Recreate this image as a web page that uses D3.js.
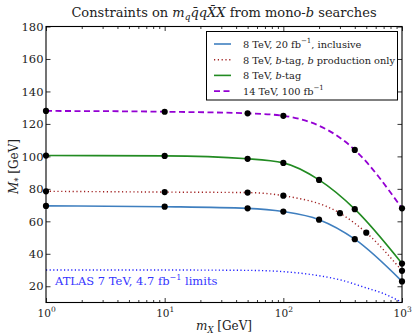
<!DOCTYPE html>
<html>
<head>
<meta charset="utf-8">
<script src="https://cdn.jsdelivr.net/npm/d3@7"></script>
<style>
  html, body { margin: 0; padding: 0; background: #fff; }
</style>
</head>
<body>
<svg id="chart" width="412" height="333" font-family="'DejaVu Serif', 'Liberation Serif', 'Times New Roman', serif"></svg>
<script>
// Mediator mass X (GeV) at which each limit was computed
const mxInclusive = [1, 10, 50, 100, 200, 400, 1000];
const msInclusive = [69.5, 69, 68, 66, 61, 49, 23];

const mxBprod = [1, 10, 50, 100, 300, 500, 1000];
const msBprod = [78.5, 78, 77.7, 75.8, 65, 53, 29.5];

const mxBtag = [1, 10, 50, 100, 200, 400, 1000];
const msBtag = [100.5, 100.3, 98.5, 96, 85.5, 67.5, 34];

const mx14 = [1, 10, 50, 100, 400, 1000];
const ms14 = [128, 127.5, 126.5, 125, 104, 68];

// ATLAS 7 TeV reference curve (no markers)
const mxAtlas = [1, 10, 50, 100, 200, 300, 500, 700, 1000];
const msAtlas = [30, 30, 29.8, 29, 26.5, 24, 19, 15.5, 10];

const yTicks = [20, 40, 60, 80, 100, 120, 140, 160, 180];
const xDecades = [0, 1, 2, 3];

const series = [
  { label: "inclusive", xs: mxInclusive, ys: msInclusive, color: "#3f7fbf", dash: null, width: 1.6, markers: true },
  { label: "bprod", xs: mxBprod, ys: msBprod, color: "#a02020", dash: "1.2,2.6", width: 1.4, markers: true },
  { label: "btag", xs: mxBtag, ys: msBtag, color: "#228b22", dash: null, width: 1.6, markers: true },
  { label: "14tev", xs: mx14, ys: ms14, color: "#9400d3", dash: "6,3.5", width: 1.8, markers: true },
  { label: "atlas", xs: mxAtlas, ys: msAtlas, color: "#2020ff", dash: "1.2,2.4", width: 1.4, markers: false }
];

const svg = d3.select("#chart");
const pL = 46, pR = 402, pT = 26.5, pB = 302.5;

const x = d3.scaleLog().domain([1, 1000]).range([pL, pR]);
const y = d3.scaleLinear().domain([10, 180]).range([pB, pT]);

const plot = svg.append("g");
plot.append("clipPath").attr("id", "clip")
  .append("rect").attr("x", pL).attr("y", pT).attr("width", pR - pL).attr("height", pB - pT);

const line = d3.line()
  .x(d => x(d[0])).y(d => y(d[1]))
  .curve(d3.curveMonotoneX);

const lines = plot.append("g").attr("clip-path", "url(#clip)");
series.forEach(s => {
  const pts = s.xs.map((v, i) => [v, s.ys[i]]);
  lines.append("path")
    .attr("d", line(pts))
    .attr("fill", "none")
    .attr("stroke", s.color)
    .attr("stroke-width", s.width)
    .attr("stroke-dasharray", s.dash);
});
series.filter(s => s.markers).forEach(s => {
  s.xs.forEach((v, i) => {
    plot.append("circle")
      .attr("cx", x(v)).attr("cy", y(s.ys[i]))
      .attr("r", 3.1).attr("fill", "#000");
  });
});

// Axes with inward ticks on all four sides
const minor = [];
for (let d = 0; d < 3; d++) for (let k = 2; k <= 9; k++) minor.push(k * Math.pow(10, d));
const major = xDecades.map(d => Math.pow(10, d));

function styleAxis(g) {
  g.select(".domain").remove();
  g.selectAll("line").attr("stroke", "#000").attr("stroke-width", 0.8);
}

svg.append("g").attr("transform", `translate(0,${pB})`)
  .call(d3.axisBottom(x).tickValues(major).tickSize(-4.5).tickFormat("")).call(styleAxis);
svg.append("g").attr("transform", `translate(0,${pB})`)
  .call(d3.axisBottom(x).tickValues(minor).tickSize(-2.5).tickFormat("")).call(styleAxis);
svg.append("g").attr("transform", `translate(0,${pT})`)
  .call(d3.axisTop(x).tickValues(major).tickSize(-4.5).tickFormat("")).call(styleAxis);
svg.append("g").attr("transform", `translate(0,${pT})`)
  .call(d3.axisTop(x).tickValues(minor).tickSize(-2.5).tickFormat("")).call(styleAxis);
svg.append("g").attr("transform", `translate(${pL},0)`)
  .call(d3.axisLeft(y).tickValues(yTicks).tickSize(-4.5).tickFormat("")).call(styleAxis);
svg.append("g").attr("transform", `translate(${pR},0)`)
  .call(d3.axisRight(y).tickValues(yTicks).tickSize(-4.5).tickFormat("")).call(styleAxis);

svg.append("rect")
  .attr("x", pL).attr("y", pT).attr("width", pR - pL).attr("height", pB - pT)
  .attr("fill", "none").attr("stroke", "#000").attr("stroke-width", 1.1);

// Tick labels
const yl = svg.append("g");
yTicks.forEach(t => {
  yl.append("text").attr("x", pL - 2.5).attr("y", y(t) + 4.2)
    .attr("text-anchor", "end").attr("font-size", 11.5).attr("fill", "#222").text(t);
});
const xl = svg.append("g");
xDecades.forEach(d => {
  const t = xl.append("text").attr("x", x(Math.pow(10, d)) - 8.5).attr("y", 317)
    .attr("font-size", 10.5).attr("fill", "#222");
  t.append("tspan").text("10");
  t.append("tspan").attr("dy", -5).attr("font-size", 7.5).text(d);
});

// Axis titles
const xt = svg.append("text").attr("x", 224).attr("y", 330).attr("text-anchor", "middle")
  .attr("font-size", 12).attr("fill", "#222");
xt.append("tspan").attr("font-style", "italic").text("m");
xt.append("tspan").attr("dy", 2.5).attr("font-size", 8.5).attr("font-style", "italic").text("X");
xt.append("tspan").attr("dy", -2.5).text(" [GeV]");

const ytl = svg.append("text").attr("transform", `translate(18,${(pT + pB) / 2 + 2}) rotate(-90)`)
  .attr("text-anchor", "middle").attr("font-size", 12).attr("fill", "#222");
ytl.append("tspan").attr("font-style", "italic").text("M");
ytl.append("tspan").attr("dy", 2.5).attr("font-size", 8.5).text("*");
ytl.append("tspan").attr("dy", -2.5).text(" [GeV]");

// Title
const title = svg.append("text").attr("x", 224).attr("y", 17).attr("text-anchor", "middle")
  .attr("font-size", 13).attr("fill", "#222");
title.append("tspan").text("Constraints on ");
title.append("tspan").attr("font-style", "italic").text("m");
title.append("tspan").attr("dy", 3).attr("font-size", 9).attr("font-style", "italic").text("q");
title.append("tspan").attr("dy", -3).attr("font-style", "italic").text("q\u0304qX\u0304X");
title.append("tspan").text(" from mono-");
title.append("tspan").attr("font-style", "italic").text("b");
title.append("tspan").text(" searches");

// ATLAS annotation
const at = svg.append("text").attr("x", 55).attr("y", 285).attr("font-size", 11.5).attr("fill", "#3535ff");
at.append("tspan").text("ATLAS 7 TeV, 4.7 fb");
at.append("tspan").attr("dy", -5).attr("font-size", 8).text("\u22121");
at.append("tspan").attr("dy", 5).text(" limits");

// Legend
const leg = svg.append("g");
leg.append("rect").attr("x", 206.5).attr("y", 31.5).attr("width", 191).attr("height", 68.5)
  .attr("fill", "#fff").attr("stroke", "#000").attr("stroke-width", 1);
const legRows = [
  { s: series[0], parts: [["8 TeV, 20 fb", null], ["\u22121", "sup"], [", inclusive", null]] },
  { s: series[1], parts: [["8 TeV, ", null], ["b", "i"], ["-tag, ", null], ["b", "i"], [" production only", null]] },
  { s: series[2], parts: [["8 TeV, ", null], ["b", "i"], ["-tag", null]] },
  { s: series[3], parts: [["14 TeV, 100 fb", null], ["\u22121", "sup"]] }
];
legRows.forEach((r, i) => {
  const cy = 44 + i * 15.7;
  leg.append("line").attr("x1", 214).attr("x2", 231).attr("y1", cy).attr("y2", cy)
    .attr("stroke", r.s.color).attr("stroke-width", r.s.width).attr("stroke-dasharray", r.s.dash);
  const t = leg.append("text").attr("x", 243).attr("y", cy + 3.8).attr("font-size", 9.8).attr("fill", "#222");
  let shifted = false;
  r.parts.forEach(([txt, kind]) => {
    const sp = t.append("tspan").text(txt);
    if (kind === "i") sp.attr("font-style", "italic");
    if (kind === "sup") { sp.attr("dy", -4.5).attr("font-size", 7).attr("font-size", 7); shifted = true; }
    else if (shifted) { sp.attr("dy", 4.5); shifted = false; }
  });
});
</script>
</body>
</html>
